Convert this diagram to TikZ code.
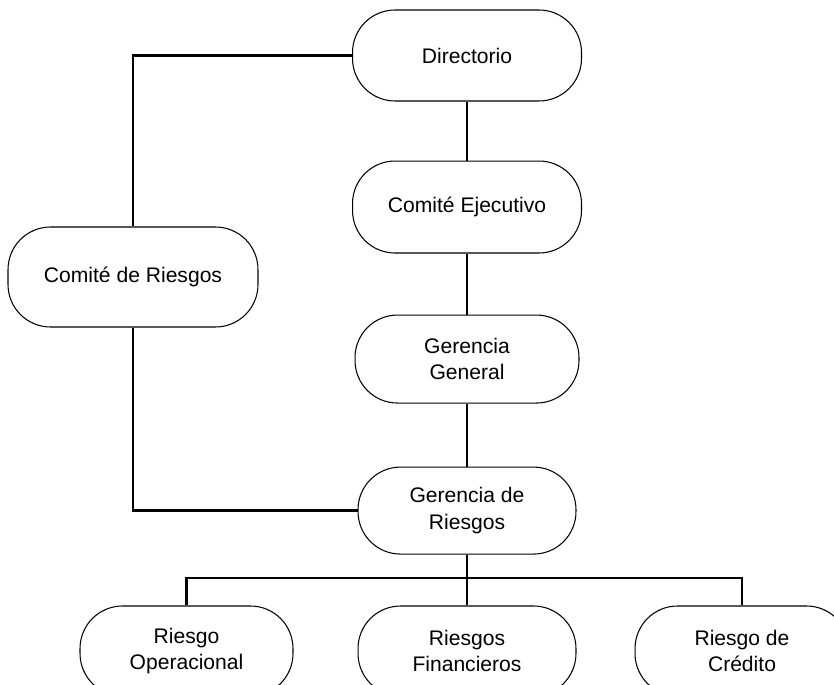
\documentclass[tikz,border=0pt]{standalone}
\usepackage{fontspec}
\setmainfont{Liberation Sans}
\usetikzlibrary{positioning}

\begin{document}
\begin{tikzpicture}[
        x=0.02cm, y=-0.02cm,
        box/.style={
            rectangle, rounded corners=0.85cm, draw=black, line width=0.6pt,
            align=center, font=\fontsize{12}{15}\selectfont, inner sep=0pt,
            minimum width=4.4cm, minimum height=1.78cm
        },
        link/.style={line width=1.4pt, color=black}
    ]
        % Frame of the page
        \clip (0,0) rectangle (834,685);

        % Main chain
        \node[box, minimum width=4.58cm, minimum height=1.82cm] (dir) at (467,55.5) {Directorio};
        \node[box, minimum width=4.58cm, minimum height=1.84cm, below=1.18cm of dir] (eje) {Comité Ejecutivo};
        \node[box, minimum width=4.48cm, minimum height=1.76cm, below=1.22cm of eje] (gg) {Gerencia\\General};
        \node[box, minimum width=4.36cm, minimum height=1.74cm, below=1.26cm of gg] (gr) {Gerencia de\\Riesgos};

        % Side committee
        \node[box, minimum width=5.0cm, minimum height=2.0cm] (crd) at (133,277) {Comité de Riesgos};

        % Bottom row
        \node[box, minimum width=4.26cm, minimum height=1.8cm] (op) at (186.5,651) {Riesgo\\Operacional};
        \node[box, minimum width=4.36cm, minimum height=1.8cm] (fin) at (467,651) {Riesgos\\Financieros};
        \node[box, minimum width=4.28cm, minimum height=1.8cm] (cred) at (742,651) {Riesgo de\\Crédito};
        \coordinate (bus) at (467,578);

        % Connectors
        \draw[link] (dir) -- (eje);
        \draw[link] (eje) -- (gg);
        \draw[link] (gg) -- (gr);
        \draw[link] (dir.west) -| (crd.north);
        \draw[link] (crd.south) |- (gr.west);
        \draw[link] (gr.south) -- (fin.north);
        \draw[link] (op.north) |- (bus) -| (cred.north);

\end{tikzpicture}
\end{document}
